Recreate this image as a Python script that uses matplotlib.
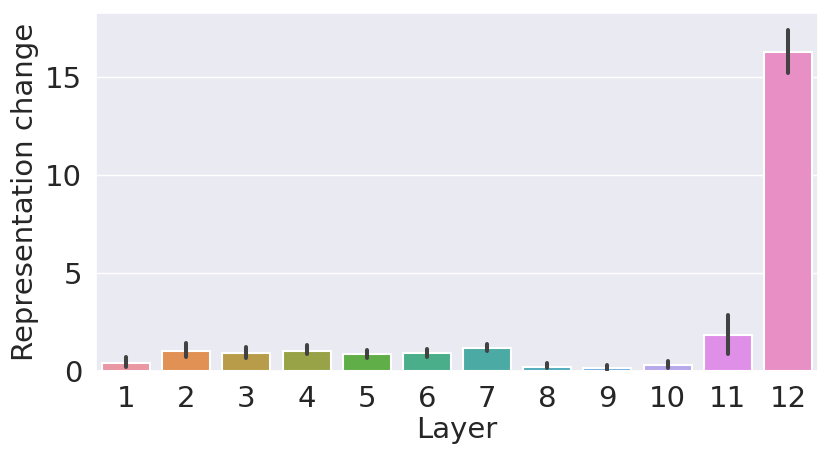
import matplotlib
matplotlib.use("Agg")
import matplotlib.pyplot as plt
import seaborn as sns

layers = ["1", "2", "3", "4", "5", "6", "7", "8", "9", "10", "11", "12"]
change = [0.42, 1.03, 0.93, 1.03, 0.86, 0.90, 1.15, 0.22, 0.14, 0.29, 1.84, 16.27]
ci_low = [0.22, 0.72, 0.66, 0.85, 0.67, 0.73, 1.03, 0.14, 0.05, 0.14, 0.86, 15.20]
ci_high = [0.69, 1.43, 1.20, 1.33, 1.08, 1.10, 1.37, 0.39, 0.30, 0.49, 2.87, 17.42]

sns.set_theme(style="darkgrid")
colors = [sns.desaturate(c, 0.75) for c in sns.husl_palette(len(layers), l=.7)]

fig, ax = plt.subplots(figsize=(8.31, 4.58), dpi=100)
pos = list(range(len(layers)))
ax.bar(pos, change, width=0.8, color=colors, edgecolor="white", linewidth=1.5, zorder=2)
ax.vlines(pos, ci_low, ci_high, color=".26", linewidth=2.9, capstyle="round", zorder=3)

ax.set_xticks(pos)
ax.set_xticklabels(layers)
ax.set_xlim(-0.5, len(layers) - 0.5)
ax.set_ylim(0, None)
ax.set_yticks([0, 5, 10, 15])
ax.tick_params(labelsize=21, pad=4)
ax.set_xlabel("Layer", fontsize=21, labelpad=2)
ax.set_ylabel("Representation change", fontsize=21)
ax.grid(axis="x", visible=False)

plt.subplots_adjust(left=96 / 831, right=818 / 831, top=1 - 12.7 / 458, bottom=1 - 371 / 458)
fig.savefig("out.png", dpi=100)
